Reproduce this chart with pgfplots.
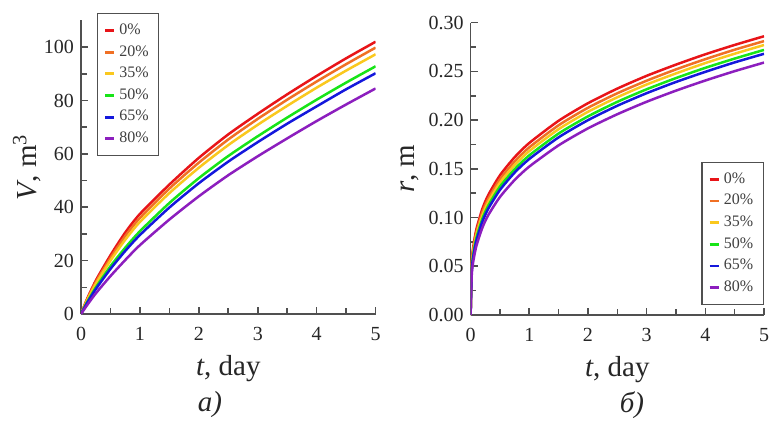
\documentclass[border=0pt]{standalone}
\usepackage{fontspec}
\setmainfont{Liberation Serif}
\newfontfamily\tickfont{Liberation Serif}
\usepackage{pgfplots}
\pgfplotsset{compat=1.18}

\definecolor{c0}{RGB}{232,20,24}
\definecolor{c20}{RGB}{240,112,36}
\definecolor{c35}{RGB}{250,200,30}
\definecolor{c50}{RGB}{24,228,24}
\definecolor{c65}{RGB}{20,24,220}
\definecolor{c80}{RGB}{140,30,190}
\definecolor{axgray}{RGB}{80,80,80}

\pgfplotsset{
  panel/.style={
    scale only axis,
    axis x line*=bottom, axis y line*=left,
    axis line style={-, axgray, line width=0.85pt},
    tick style={axgray, line width=0.8pt},
    tick align=inside,
    major tick length=3.6pt, minor tick length=2.8pt,
    xmin=0, xmax=5, xtick={0,...,5}, minor x tick num=1,
    ticklabel style={font=\tickfont\fontsize{10}{12}\selectfont, text=black!85},
    xticklabel style={yshift=-3pt},
    /pgf/number format/assume math mode=true,
    every axis plot/.append style={line width=1.25pt, no markers, smooth, tension=0.4},
    legend style={draw=axgray, line width=0.7pt, fill=white,
      font=\tickfont\fontsize{8}{9.5}\selectfont, text=black!75,
      row sep=0pt, inner xsep=3pt, inner ysep=3pt},
    legend cell align=left,
    legend image code/.code={\draw[#1, line width=1.4pt] (0pt,0pt) -- (4.5pt,0pt);},
  }
}

\begin{document}
\begin{tikzpicture}
\useasboundingbox (0,0) rectangle (385pt,210pt);

% ---- (a) volume
\begin{axis}[panel,
  at={(40.5pt,53pt)}, anchor=south west,
  width=147.3pt, height=146.8pt,
  ymin=0, ymax=110, ytick={0,20,...,100}, minor y tick num=1,
  xlabel={\textit{t}, day},
  ylabel={\textit{V}, m\textsuperscript{3}},
  every axis x label/.style={at={(axis description cs:0.5,-0.187)}, anchor=center,
    font=\fontsize{14.5}{16}\selectfont, text=black!85},
  every axis y label/.style={at={(axis description cs:-0.183,0.5)}, rotate=90, anchor=center,
    font=\fontsize{14.5}{16}\selectfont, text=black!85},
  legend style={at={(axis description cs:0.054,1.025)}, anchor=north west},
]
\addplot[c0] coordinates {(0,0) (0.1,5.5) (0.25,12.5) (0.5,22.0) (0.75,30.5) (1,37.5) (1.5,48.5) (2,58.5) (2.5,67.3) (3,75.0) (3.5,82.3) (4,89.2) (4.5,95.8) (5,102.0)};
\addplot[c20] coordinates {(0,0) (0.1,5.2) (0.25,11.9) (0.5,21.0) (0.75,29.2) (1,36.0) (1.5,47.0) (2,56.7) (2.5,65.4) (3,73.1) (3.5,80.3) (4,87.1) (4.5,93.6) (5,99.8)};
\addplot[c35] coordinates {(0,0) (0.1,4.9) (0.25,11.2) (0.5,20.0) (0.75,27.8) (1,34.5) (1.5,45.3) (2,54.8) (2.5,63.3) (3,70.9) (3.5,78.0) (4,84.8) (4.5,91.2) (5,97.3)};
\addplot[c50] coordinates {(0,0) (0.1,4.3) (0.25,9.9) (0.5,17.9) (0.75,24.8) (1,31.0) (1.5,41.6) (2,50.9) (2.5,59.2) (3,66.6) (3.5,73.6) (4,80.3) (4.5,86.7) (5,92.8)};
\addplot[c65] coordinates {(0,0) (0.1,4.0) (0.25,9.3) (0.5,16.9) (0.75,23.6) (1,29.6) (1.5,39.9) (2,49.0) (2.5,57.1) (3,64.4) (3.5,71.3) (4,77.8) (4.5,84.2) (5,90.2)};
\addplot[c80] coordinates {(0,0) (0.1,3.2) (0.25,7.7) (0.5,14.2) (0.75,20.2) (1,25.8) (1.5,35.4) (2,44.1) (2.5,52.0) (3,59.1) (3.5,65.8) (4,72.3) (4.5,78.5) (5,84.5)};
\legend{0\%, 20\%, 35\%, 50\%, 65\%, 80\%}
\end{axis}

% ---- (b) radius
\begin{axis}[panel,
  at={(235.3pt,52.5pt)}, anchor=south west,
  width=146.7pt, height=146.2pt,
  ymin=0, ymax=0.30, ytick={0,0.05,...,0.30}, minor y tick num=1,
  yticklabel style={/pgf/number format/.cd, fixed, fixed zerofill, precision=2},
  xlabel={\textit{t}, day},
  ylabel={\textit{r}, m},
  every axis x label/.style={at={(axis description cs:0.5,-0.185)}, anchor=center,
    font=\fontsize{14.5}{16}\selectfont, text=black!85},
  every axis y label/.style={at={(axis description cs:-0.207,0.5)}, rotate=90, anchor=center,
    font=\fontsize{14.5}{16}\selectfont, text=black!85},
  legend style={at={(axis description cs:1,0.034)}, anchor=south east},
]
\addplot[c0] coordinates {(0,0) (0.02,0.0546) (0.05,0.0718) (0.1,0.0884) (0.2,0.1089) (0.3,0.1230) (0.5,0.1433) (0.75,0.1619) (1,0.1765) (1.5,0.1993) (2,0.2173) (2.5,0.2323) (3,0.2454) (3.5,0.2569) (4,0.2675) (4.5,0.2771) (5,0.286)};
\addplot[c20] coordinates {(0,0) (0.02,0.0522) (0.05,0.0690) (0.1,0.0852) (0.2,0.1053) (0.3,0.1191) (0.5,0.1393) (0.75,0.1575) (1,0.1720) (1.5,0.1947) (2,0.2126) (2.5,0.2275) (3,0.2404) (3.5,0.2520) (4,0.2625) (4.5,0.2722) (5,0.281)};
\addplot[c35] coordinates {(0,0) (0.02,0.0500) (0.05,0.0665) (0.1,0.0824) (0.2,0.1021) (0.3,0.1158) (0.5,0.1357) (0.75,0.1538) (1,0.1682) (1.5,0.1907) (2,0.2085) (2.5,0.2234) (3,0.2365) (3.5,0.2479) (4,0.2585) (4.5,0.2681) (5,0.277)};
\addplot[c50] coordinates {(0,0) (0.02,0.0478) (0.05,0.0638) (0.1,0.0793) (0.2,0.0987) (0.3,0.1121) (0.5,0.1317) (0.75,0.1496) (1,0.1638) (1.5,0.1862) (2,0.2038) (2.5,0.2187) (3,0.2316) (3.5,0.2431) (4,0.2536) (4.5,0.2631) (5,0.272)};
\addplot[c65] coordinates {(0,0) (0.02,0.0458) (0.05,0.0614) (0.1,0.0766) (0.2,0.0957) (0.3,0.1090) (0.5,0.1283) (0.75,0.1461) (1,0.1601) (1.5,0.1823) (2,0.1999) (2.5,0.2147) (3,0.2276) (3.5,0.2391) (4,0.2495) (4.5,0.2592) (5,0.268)};
\addplot[c80] coordinates {(0,0) (0.02,0.0419) (0.05,0.0566) (0.1,0.0712) (0.2,0.0895) (0.3,0.1024) (0.5,0.1211) (0.75,0.1385) (1,0.1523) (1.5,0.1741) (2,0.1915) (2.5,0.2060) (3,0.2188) (3.5,0.2302) (4,0.2406) (4.5,0.2502) (5,0.259)};
\legend{0\%, 20\%, 35\%, 50\%, 65\%, 80\%}
\end{axis}

\node[font=\fontsize{14.5}{16}\selectfont, text=black!85] at (105pt,7.5pt) {\textit{а)}};
\node[font=\fontsize{14.5}{16}\selectfont, text=black!85] at (316pt,7.5pt) {\textit{б)}};
\end{tikzpicture}
\end{document}
